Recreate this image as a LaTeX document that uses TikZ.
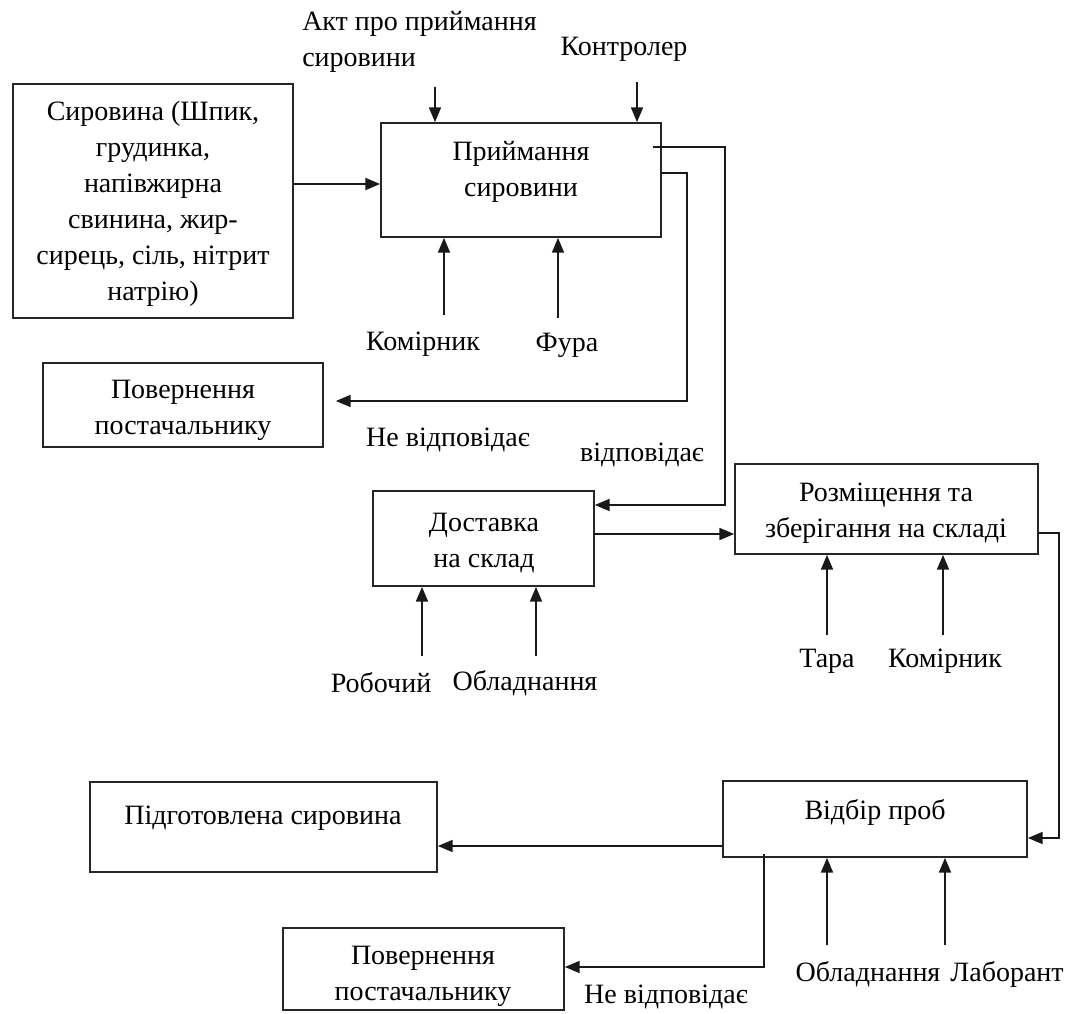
\documentclass[tikz,border=0pt]{standalone}
\usepackage{fontspec}
\setmainfont{Liberation Serif}
\usetikzlibrary{arrows.meta,fit,calc}
\begin{document}
\begin{tikzpicture}[x=0.75pt,y=-0.75pt,
  box/.style={draw=black!85, line width=1.3pt, inner sep=0pt},
  lbl/.style={font=\fontsize{21}{27}\selectfont, align=center, inner sep=0pt},
  conn/.style={line width=1.1pt, draw=black!90},
  arr/.style={conn, -{Triangle[length=11pt,width=9pt]}}]
\useasboundingbox (0,0) rectangle (1072,1014);

% boxes
\node[box, fit={(13,84) (293,318)}] (syr) {};
\node[box, fit={(381,123) (661,237)}] (prym) {};
\node[box, fit={(43,363) (323,447)}] (pov1) {};
\node[box, fit={(373,491) (594,586)}] (dost) {};
\node[box, fit={(735,464) (1038,554)}] (rozm) {};
\node[box, fit={(723,781) (1027,857)}] (vidb) {};
\node[box, fit={(90,782) (437,872)}] (pidg) {};
\node[box, fit={(283,928) (564,1010)}] (pov2) {};

% box texts
\node[lbl] (syrT) at (153,204) {Сировина (Шпик,\\грудинка,\\напівжирна\\свинина, жир-\\сирець, сіль, нітрит\\натрію)};
\node[lbl] (prymT) at (521,172) {Приймання\\сировини};
\node[lbl] (pov1T) at (183,410) {Повернення\\постачальнику};
\node[lbl] (dostT) at (484,543) {Доставка\\на склад};
\node[lbl] (rozmT) at (886,513) {Розміщення та\\зберігання на складі};
\node[lbl] (vidbT) at (875,812) {Відбір проб};
\node[lbl] (pidgT) at (263,818) {Підготовлена сировина};
\node[lbl] (pov2T) at (423,976) {Повернення\\постачальнику};

% free labels
\node[lbl, align=left, anchor=west] (akt) at (302,42) {Акт про приймання\\сировини};
\node[lbl] (kontr) at (624,49) {Контролер};
\node[lbl] (kom1) at (423,344) {Комірник};
\node[lbl] (fura) at (567,345) {Фура};
\node[lbl] (nv1) at (448,440) {Не відповідає};
\node[lbl] (vidp) at (642,455) {відповідає};
\node[lbl] (rob) at (381,683) {Робочий};
\node[lbl] (obl1) at (525,683) {Обладнання};
\node[lbl] (tara) at (827,661) {Тара};
\node[lbl] (kom2) at (945,661) {Комірник};
\node[lbl] (obl2) at (868,974) {Обладнання};
\node[lbl] (lab) at (1007,974) {Лаборант};
\node[lbl] (nv2) at (666,997) {Не відповідає};

% connector anchor points
\coordinate (c1) at (293,184);
\coordinate (cAkt) at (435,87);
\coordinate (cKontr) at (637,82);
\coordinate (cKom1) at (444,315);
\coordinate (cFura) at (558,318);
\coordinate (o1s) at (653,147);
\coordinate (o1c) at (725,505);
\coordinate (o2s) at (661,173);
\coordinate (o2c) at (687,401);
\coordinate (cd) at (594,534);
\coordinate (cRob) at (422,656);
\coordinate (cObl1) at (536,656);
\coordinate (cTara) at (827,635);
\coordinate (cKom2) at (943,635);
\coordinate (r1) at (1038,533);
\coordinate (r2) at (1059,838);
\coordinate (v1) at (723,846);
\coordinate (v2) at (764,854);
\coordinate (v3) at (764,967);
\coordinate (cObl2) at (827,945);
\coordinate (cLab) at (945,945);

% connectors
\draw[arr] (c1) -- (c1 -| prym.west);
\draw[arr] (cAkt) -- (cAkt |- prym.north);
\draw[arr] (cKontr) -- (cKontr |- prym.north);
\draw[arr] (cKom1) -- (cKom1 |- prym.south);
\draw[arr] (cFura) -- (cFura |- prym.south);
\draw[arr] (o1s) -- (o1s -| o1c) -- (o1c) -- (o1c -| dost.east);
\draw[arr, shorten >=9pt] (o2s) -- (o2s -| o2c) -- (o2c) -- (o2c -| pov1.east);
\draw[arr] (cd) -- (cd -| rozm.west);
\draw[arr] (cRob) -- (cRob |- dost.south);
\draw[arr] (cObl1) -- (cObl1 |- dost.south);
\draw[arr] (cTara) -- (cTara |- rozm.south);
\draw[arr] (cKom2) -- (cKom2 |- rozm.south);
\draw[arr] (r1) -- (r1 -| r2) -- (r2) -- (r2 -| vidb.east);
\draw[arr] (v1) -- (v1 -| pidg.east);
\draw[arr] (v2) -- (v3) -- (v3 -| pov2.east);
\draw[arr] (cObl2) -- (cObl2 |- vidb.south);
\draw[arr] (cLab) -- (cLab |- vidb.south);
\end{tikzpicture}
\end{document}
